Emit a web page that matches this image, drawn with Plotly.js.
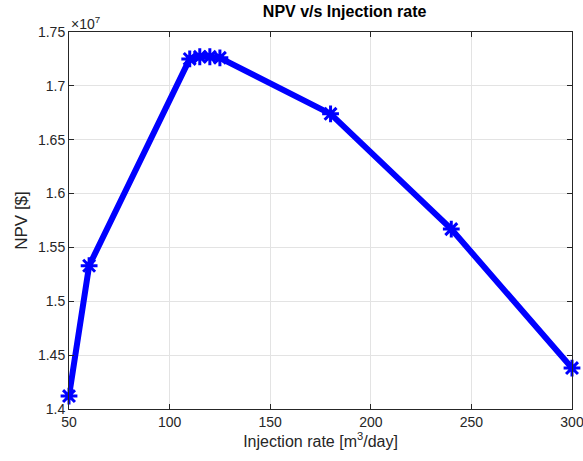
<!DOCTYPE html>
<html>
<head>
<meta charset="utf-8">
<script src="https://cdn.plot.ly/plotly-3.0.1.min.js"></script>
<style>html,body{margin:0;padding:0;background:#fff;}#chart{width:583px;height:461px;}</style>
</head>
<body>
<div id="chart"></div>
<script>
// Data (NPV in units of 1e7 $)
var injectionRate = [50, 60, 110, 115, 120, 125, 180, 240, 300];
var npv = [1.412, 1.533, 1.725, 1.727, 1.727, 1.726, 1.674, 1.567, 1.438];
var xTicks = [50, 100, 150, 200, 250, 300];
var yTicks = [1.4, 1.45, 1.5, 1.55, 1.6, 1.65, 1.7, 1.75];
var yTickLabels = ["1.4", "1.45", "1.5", "1.55", "1.6", "1.65", "1.7", "1.75"];

var FONT = 'Liberation Sans, Arial, sans-serif';

var trace = {
  x: injectionRate,
  y: npv,
  type: 'scatter',
  mode: 'lines+markers',
  cliponaxis: false,
  line: {color: '#0000ff', width: 6},
  marker: {symbol: 'asterisk-open', size: 14, color: '#0000ff', line: {color: '#0000ff', width: 3}},
  hoverinfo: 'x+y'
};

var axisCommon = {
  showline: true, linecolor: '#262626', linewidth: 1, mirror: 'ticks',
  ticks: 'inside', ticklen: 5, tickcolor: '#262626',
  showgrid: true, gridcolor: '#e3e3e3', gridwidth: 1,
  zeroline: false, ticklabeloverflow: 'allow',
  tickfont: {family: FONT, size: 14, color: '#262626'}
};

var layout = {
  width: 583, height: 461,
  margin: {l: 69, r: 11, t: 32, b: 52},
  paper_bgcolor: '#ffffff', plot_bgcolor: '#ffffff',
  showlegend: false,
  title: {text: '<b>NPV v/s Injection rate</b>', x: 0.548, xref: 'paper', y: 0.988, yanchor: 'top',
          font: {family: FONT, size: 16, color: '#000000'}},
  xaxis: Object.assign({}, axisCommon, {
    range: [50, 300], tickvals: xTicks,
    title: {text: 'Injection rate [m<sup>3</sup>/day]', standoff: 6,
            font: {family: FONT, size: 16, color: '#262626'}}
  }),
  yaxis: Object.assign({}, axisCommon, {
    range: [1.4, 1.75], tickvals: yTicks, ticktext: yTickLabels,
    title: {text: 'NPV [$]', standoff: 6,
            font: {family: FONT, size: 17, color: '#262626'}}
  }),
  annotations: [{
    text: '\u00d710<sup>7</sup>', xref: 'paper', yref: 'paper', x: 0, y: 1,
    xanchor: 'left', yanchor: 'bottom', showarrow: false, yshift: -2,
    font: {family: FONT, size: 14, color: '#262626'}
  }]
};

Plotly.newPlot('chart', [trace], layout, {displayModeBar: false, staticPlot: true});
</script>
</body>
</html>
